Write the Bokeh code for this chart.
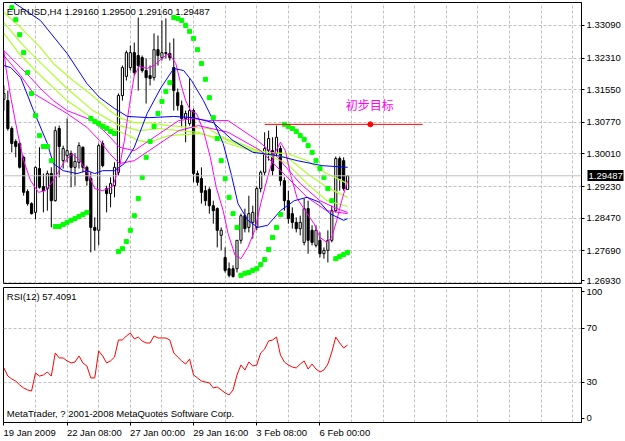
from bokeh.plotting import figure
from bokeh.layouts import column
from bokeh.models import Range1d, FixedTicker, Label, Span, LinearAxis
from bokeh.embed import file_html
from bokeh.resources import INLINE

# ---------------- data ----------------
bar_index = list(range(88))

open_prices = [1.3132, 1.3129, 1.3062, 1.3031, 1.3026, 1.2993, 1.2911, 1.2882, 1.2861, 1.2966,
               1.2923, 1.2918, 1.2954, 1.2889, 1.3062, 1.2985, 1.2997, 1.3002, 1.2969, 1.2981,
               1.3017, 1.2969, 1.2942, 1.2825, 1.2818, 1.3026, 1.2918, 1.2906, 1.2925, 1.2957,
               1.3141, 1.3187, 1.3208, 1.3244, 1.3237, 1.3232, 1.3201, 1.3189, 1.3184, 1.3251,
               1.3232, 1.3244, 1.3242, 1.3208, 1.3148, 1.3117, 1.3086, 1.3074, 1.3105, 1.2954,
               1.2942, 1.2913, 1.2916, 1.2877, 1.2870, 1.2806, 1.2753, 1.2726, 1.2726, 1.2726,
               1.2794, 1.2853, 1.2825, 1.2837, 1.2825, 1.2918, 1.2957, 1.3009, 1.3009, 1.3002,
               1.3014, 1.2937, 1.2889, 1.2858, 1.2837, 1.2822, 1.2789, 1.2870, 1.2818, 1.2782,
               1.2794, 1.2762, 1.2770, 1.2794, 1.2865, 1.2990, 1.2985, 1.29160]
high_prices = [1.3165, 1.3153, 1.3067, 1.3036, 1.3031, 1.2997, 1.2916, 1.2885, 1.2971, 1.3017,
               1.2954, 1.2961, 1.2969, 1.3067, 1.3069, 1.3021, 1.3086, 1.3009, 1.3002, 1.3029,
               1.3019, 1.2973, 1.2957, 1.2849, 1.3026, 1.3033, 1.2925, 1.2945, 1.2981, 1.3146,
               1.3213, 1.3249, 1.3261, 1.3268, 1.3328, 1.3237, 1.3230, 1.3213, 1.3290, 1.3285,
               1.3321, 1.3326, 1.3268, 1.3278, 1.3158, 1.3129, 1.3105, 1.3182, 1.3110, 1.2961,
               1.2969, 1.2925, 1.2921, 1.2889, 1.2873, 1.2825, 1.2777, 1.2741, 1.2734, 1.2794,
               1.2858, 1.2870, 1.2901, 1.2877, 1.2923, 1.2961, 1.3053, 1.3057, 1.3041, 1.3069,
               1.3021, 1.2945, 1.2913, 1.2873, 1.2849, 1.2853, 1.2894, 1.2889, 1.2830, 1.2830,
               1.2813, 1.2777, 1.2818, 1.2877, 1.2995, 1.2995, 1.2993, 1.29500]
low_prices = [1.3105, 1.3057, 1.3005, 1.2993, 1.2966, 1.2901, 1.2877, 1.2856, 1.2844, 1.2918,
              1.2861, 1.2865, 1.2825, 1.2887, 1.2945, 1.2966, 1.2981, 1.2921, 1.2925, 1.2966,
              1.2957, 1.2925, 1.2765, 1.2770, 1.2782, 1.2969, 1.2861, 1.2873, 1.2897, 1.2949,
              1.3129, 1.3177, 1.3201, 1.3189, 1.3153, 1.3196, 1.3122, 1.3165, 1.3177, 1.3213,
              1.3225, 1.3230, 1.3225, 1.3105, 1.3105, 1.3065, 1.3029, 1.3069, 1.2933, 1.2925,
              1.2882, 1.2877, 1.2858, 1.2834, 1.2777, 1.2770, 1.2717, 1.2705, 1.2705, 1.2717,
              1.2786, 1.2813, 1.2813, 1.2798, 1.2818, 1.2909, 1.2949, 1.2985, 1.2949, 1.2997,
              1.2925, 1.2865, 1.2834, 1.2822, 1.2813, 1.2806, 1.2782, 1.2762, 1.2782, 1.2777,
              1.2753, 1.2750, 1.2741, 1.2789, 1.2861, 1.2913, 1.2913, 1.29160]
close_prices = [1.3146, 1.3062, 1.3026, 1.3019, 1.2969, 1.2909, 1.2882, 1.2858, 1.2969, 1.2921,
                1.2913, 1.2954, 1.2889, 1.3057, 1.3019, 1.3014, 1.3009, 1.2969, 1.2983, 1.3021,
                1.2969, 1.2937, 1.2825, 1.2818, 1.3021, 1.2973, 1.2906, 1.2930, 1.2969, 1.3141,
                1.3208, 1.3244, 1.3244, 1.3196, 1.3213, 1.3201, 1.3184, 1.3182, 1.3251, 1.3237,
                1.3244, 1.3242, 1.3232, 1.3153, 1.3117, 1.3086, 1.3098, 1.3105, 1.2954, 1.2933,
                1.2909, 1.2889, 1.2877, 1.2865, 1.2818, 1.2818, 1.2722, 1.2710, 1.2707, 1.2794,
                1.2853, 1.2822, 1.2858, 1.2861, 1.2918, 1.2957, 1.3014, 1.3038, 1.2961, 1.3041,
                1.2937, 1.2889, 1.2846, 1.2837, 1.2822, 1.2837, 1.2870, 1.2794, 1.2789, 1.2818,
                1.2762, 1.2770, 1.2794, 1.2865, 1.2990, 1.2942, 1.2918, 1.29487]

sar_x = list(range(2, 88))
sar_values = [1.3352, 1.3323, 1.3287, 1.3244, 1.3196, 1.3146, 1.3093, 1.3045, 1.3019, 1.3019, 1.2985,
              1.2827, 1.2827, 1.2832, 1.2837, 1.2842, 1.2846, 1.2851, 1.2856, 1.2861,
              1.3086, 1.3079, 1.3074, 1.3067, 1.3062, 1.3055, 1.3050,
              1.2767, 1.2774, 1.2791, 1.2818, 1.2853, 1.2894, 1.2945, 1.2993, 1.3031, 1.3067,
              1.3098, 1.3127, 1.3151, 1.3172,
              1.3328, 1.3326, 1.3321, 1.3309, 1.3295, 1.3278, 1.3251, 1.3218, 1.3180, 1.3136,
              1.3088, 1.3038, 1.2985, 1.2942, 1.2897, 1.2858, 1.2825,
              1.2710, 1.2715, 1.2717, 1.2722, 1.2726, 1.2736, 1.2748, 1.2772, 1.2801, 1.2825, 1.2856,
              1.3072, 1.3067, 1.3062, 1.3055, 1.3045, 1.3036, 1.3021, 1.3005, 1.2985, 1.2966,
              1.2945, 1.2918, 1.2889,
              1.2750, 1.2755, 1.2760, 1.2765]

blue_slow_x = [0, 2.5, 9.25, 16, 21, 24.25, 28, 31.25, 36.75, 43, 48, 53, 58, 63, 69.25, 74.25, 80.5, 87]
blue_slow_y = [1.3381, 1.3364, 1.3321, 1.3242, 1.3170, 1.3136, 1.3110, 1.3091, 1.3088, 1.3091,
               1.3088, 1.3076, 1.3033, 1.3005, 1.2997, 1.2985, 1.2973, 1.2969]

blue_fast_x = [0, 1.75, 4.25, 7.5, 11, 12.5, 15, 18.5, 21, 23, 25, 28, 30.5, 33, 36.25, 39.75,
               43, 45.5, 47.5, 50.5, 53, 55.5, 57.5, 59.25, 61.75, 64.25, 66.75, 70, 73.5,
               76.75, 80, 82.5, 86, 87]
blue_fast_y = [1.3213, 1.3208, 1.3184, 1.3105, 1.3026, 1.2978, 1.2961, 1.2954, 1.2961, 1.2954,
               1.2961, 1.2961, 1.2978, 1.3017, 1.3098, 1.3160, 1.3206, 1.3201, 1.3177, 1.3129,
               1.3081, 1.3026, 1.2954, 1.2882, 1.2842, 1.2825, 1.2830, 1.2865, 1.2889, 1.2897,
               1.2885, 1.2858, 1.2842, 1.2846]

magenta_fast_x = [0, 0.5, 1.75, 3.5, 5, 6.75, 8.75, 10.5, 12.5, 15, 17.25, 19.25, 21.25, 23, 25,
                  27.5, 29.25, 30.5, 31.75, 33, 34.25, 36.25, 38, 40, 41.75, 43.5, 44.75, 46,
                  47.25, 48.75, 50.5, 52.25, 53.75, 55.5, 56.75, 58.5, 60, 61.75, 63.5, 65,
                  66.75, 68.5, 70, 71.25, 72.5, 74.25, 76.75, 78.5, 80, 81.75, 83, 84.25, 85.5, 87]
magenta_fast_y = [1.3249, 1.3208, 1.3136, 1.3050, 1.2985, 1.2937, 1.2909, 1.2913, 1.2937, 1.2978,
                  1.3002, 1.2985, 1.2954, 1.2918, 1.2913, 1.2923, 1.2969, 1.3033, 1.3117, 1.3189,
                  1.3211, 1.3206, 1.3213, 1.3230, 1.3242, 1.3218, 1.3170, 1.3129, 1.3105, 1.3098,
                  1.3057, 1.2993, 1.2921, 1.2865, 1.2810, 1.2758, 1.2750, 1.2777, 1.2818, 1.2882,
                  1.2945, 1.3002, 1.3029, 1.3009, 1.2954, 1.2894, 1.2858, 1.2834, 1.2801, 1.2789,
                  1.2801, 1.2842, 1.2889, 1.2937]

magenta_mid_x = [0, 1.75, 4.25, 6.75, 9.25, 12.5, 16, 19.25, 22.5, 26, 29.25, 33, 36.75, 40.5,
                 44.25, 48, 51.75, 56.75, 64.25, 69.25, 75, 80, 84.25, 87]
magenta_mid_y = [1.3249, 1.3232, 1.3208, 1.3184, 1.3158, 1.3129, 1.3105, 1.3093, 1.3081, 1.3050,
                 1.3017, 1.3009, 1.3033, 1.3057, 1.3081, 1.3086, 1.3081, 1.3081, 1.3033, 1.2993,
                 1.2930, 1.2889, 1.2870, 1.2861]

magenta_slow_x = [0, 4.25, 7.5, 11.75, 16, 21, 24.25, 26.75, 29.25, 33, 36.75, 40.5, 44.25,
                  49.25, 56.75, 65, 71.75, 76.75, 81.75, 87]
magenta_slow_y = [1.3237, 1.3189, 1.3146, 1.3122, 1.3098, 1.3065, 1.3033, 1.3002, 1.2978, 1.2985,
                  1.3009, 1.3033, 1.3057, 1.3069, 1.3053, 1.3009, 1.2945, 1.2897, 1.2865, 1.2858]

yellow_a_x = [0, 4.25, 9.25, 12.5, 17.5, 21.75, 26.75, 29.25, 33, 36.75, 41.75, 46.75, 51.75,
              56.75, 61.75, 66.75, 71.75, 76.75, 81.75, 87]
yellow_a_y = [1.3340, 1.3304, 1.3256, 1.3218, 1.3177, 1.3146, 1.3105, 1.3088, 1.3076, 1.3076,
              1.3069, 1.3065, 1.3062, 1.3033, 1.3014, 1.3005, 1.3002, 1.2985, 1.2954, 1.2930]

yellow_b_x = [0, 4.25, 9.25, 16, 22.5, 29.25, 34.25, 39.25, 44.25, 49.25, 56.75, 65, 71.75,
              76.75, 81.75, 87]
yellow_b_y = [1.3316, 1.3268, 1.3220, 1.3158, 1.3105, 1.3069, 1.3057, 1.3062, 1.3057, 1.3053,
              1.3026, 1.3002, 1.2993, 1.2954, 1.2921, 1.2897]

yellow_c_x = [0, 4.25, 9.25, 16, 22.5, 26.75, 30.5, 34.25, 36.75, 41.75, 49.25, 58, 64.25,
              71.75, 76.75, 81.75, 87]
yellow_c_y = [1.3290, 1.3237, 1.3189, 1.3129, 1.3086, 1.3065, 1.3050, 1.3033, 1.3029, 1.3045,
              1.3050, 1.3033, 1.3009, 1.2978, 1.2930, 1.2889, 1.2875]

target_x = [66, 106]
target_y = [1.3072, 1.3072]
target_dot_x = [92.75]
target_dot_y = [1.3072]

rsi_values = [40.4, 34.4, 32.2, 30.7, 27.8, 25.6, 24.1, 23.3, 36.7, 34.4,
              35.2, 37.4, 34.4, 51.5, 47.8, 47.8, 45.6, 44.1, 44.8, 49.3,
              44.1, 41.9, 33.0, 33.0, 53.0, 49.3, 44.1, 45.6, 48.5, 61.1,
              61.1, 64.1, 66.3, 61.9, 63.3, 60.4, 58.9, 58.9, 64.1, 62.6,
              62.6, 62.6, 61.1, 51.5, 48.5, 45.6, 43.3, 47.0, 35.2, 33.0,
              30.7, 30.0, 29.3, 25.6, 26.3, 24.1, 21.9, 20.4, 24.1, 35.2,
              42.6, 38.9, 44.8, 41.9, 42.6, 51.5, 54.4, 60.4, 61.1, 63.3,
              50.0, 44.8, 42.6, 41.1, 40.4, 43.3, 45.6, 39.6, 43.3, 39.6,
              37.4, 38.9, 43.3, 52.2, 63.3, 58.9, 55.2, 57.4]

price_grid = [1.26930, 1.27690, 1.28470, 1.29230, 1.30010, 1.30770, 1.31550, 1.32310, 1.33090]
price_tick_pos = [1.26970, 1.27690, 1.28470, 1.29230, 1.30010, 1.30770, 1.31550, 1.32310, 1.33090]
price_tick_labels = ["1.26930", "1.27690", "1.28470", "1.29230", "1.30010", "1.30770",
                     "1.31550", "1.32310", "1.33090"]
current_price = 1.29487
current_price_text = "1.29487"
date_ticks = [0, 16, 32, 48, 64, 80]
date_labels = ["19 Jan 2009", "22 Jan 08:00", "27 Jan 00:00", "29 Jan 16:00", "3 Feb 08:00", "6 Feb 00:00"]
date_label_half_width = [6.5, 6.9, 6.9, 6.9, 6.3, 6.3]   # layout: label centred right of its tick
rsi_ticks = [3, 30, 70, 97]
rsi_labels = ["0", "30", "70", "100"]

# ---------------- style ----------------
FONT = "Liberation Sans"
FS = "9.5px"
GRID = "#C0C0C0"
W = 625
BORDER_R = 44


def style_axis(ax):
    ax.major_label_text_font = FONT
    ax.major_label_text_font_size = FS
    ax.major_label_text_color = "black"
    ax.major_tick_out = 3
    ax.major_tick_in = 0
    ax.minor_tick_out = 0
    ax.minor_tick_in = 0
    ax.minor_tick_line_color = None
    ax.axis_line_color = "black"
    ax.major_tick_line_color = "black"
    ax.major_label_standoff = 2


x_range = Range1d(-0.1, 146.2)

p = figure(width=W, height=286, output_backend="svg", toolbar_location=None,
           x_range=x_range, y_range=Range1d(1.26905, 1.33641),
           x_axis_location=None, y_axis_location="right",
           min_border_left=3, min_border_right=BORDER_R, min_border_top=2, min_border_bottom=3,
           background_fill_color="white", border_fill_color="white")
p.outline_line_color = "black"
p.outline_line_width = 1
style_axis(p.yaxis[0])
p.yaxis[0].ticker = FixedTicker(ticks=price_tick_pos)
p.yaxis[0].major_label_overrides = dict(zip(price_tick_pos, price_tick_labels))

# current price box on the price scale: a second, near zero-width price axis whose single
# tick is a thick black bar drawn inward over the first axis, with its label in white on it
price_box_axis = LinearAxis(ticker=FixedTicker(ticks=[current_price]),
                            major_label_overrides={current_price: current_price_text})
price_box_axis.major_label_text_font = FONT
price_box_axis.major_label_text_font_size = FS
price_box_axis.major_label_text_color = "white"
price_box_axis.major_tick_out = 0
price_box_axis.major_tick_in = 36
price_box_axis.major_tick_line_color = "black"
price_box_axis.major_tick_line_width = 11
price_box_axis.major_tick_line_cap = "butt"
price_box_axis.minor_tick_line_color = None
price_box_axis.minor_tick_out = 0
price_box_axis.minor_tick_in = 0
price_box_axis.axis_line_color = None
price_box_axis.major_label_standoff = -35
p.add_layout(price_box_axis, "right")

p.xgrid.ticker = FixedTicker(ticks=list(range(8, 146, 8)))
p.ygrid.ticker = FixedTicker(ticks=price_grid)
for g in (p.xgrid, p.ygrid):
    g.grid_line_color = GRID
    g.grid_line_dash = "3 2"
    g.grid_line_width = 1

p.add_layout(Span(location=current_price, dimension="width", line_color=GRID, line_width=1))

# candles
up_x = [i for i in bar_index if close_prices[i] >= open_prices[i]]
dn_x = [i for i in bar_index if close_prices[i] < open_prices[i]]
p.segment(x0=bar_index, y0=low_prices, x1=bar_index, y1=high_prices, line_color="black", line_width=1)
p.vbar(x=up_x, width=0.55, bottom=[open_prices[i] for i in up_x], top=[close_prices[i] for i in up_x],
       fill_color="white", line_color="black", line_width=1)
p.vbar(x=dn_x, width=0.55, bottom=[close_prices[i] for i in dn_x], top=[open_prices[i] for i in dn_x],
       fill_color="black", line_color="black", line_width=1)

# indicators
for xs, ys in ((yellow_a_x, yellow_a_y), (yellow_b_x, yellow_b_y), (yellow_c_x, yellow_c_y)):
    p.line(xs, ys, line_color="#ADFF2F", line_width=1.2)
for xs, ys in ((magenta_mid_x, magenta_mid_y), (magenta_slow_x, magenta_slow_y), (magenta_fast_x, magenta_fast_y)):
    p.line(xs, ys, line_color="#FF00FF", line_width=1)
p.line(blue_slow_x, blue_slow_y, line_color="#0000FF", line_width=1)
p.line(blue_fast_x, blue_fast_y, line_color="#0000FF", line_width=1)
p.scatter(sar_x, sar_values, marker="square", size=4, fill_color="#00FF00", line_color="#00FF00")

p.line(target_x, target_y, line_color="red", line_width=1)
p.scatter(target_dot_x, target_dot_y, marker="circle", size=5, fill_color="red", line_color="red")

p.add_layout(Label(x=0.75, y=1.33425, text="EURUSD,H4  1.29160 1.29500 1.29160 1.29487",
                   text_font=FONT, text_font_size=FS, text_color="black", text_baseline="middle"))
p.add_layout(Label(x=86.5, y=1.31196, text="初步目标", text_font="Noto Sans CJK SC",
                   text_font_size="12px", text_color="#FF00FF", text_baseline="middle"))

# ---------------- RSI panel ----------------
p2 = figure(width=W, height=155, output_backend="svg", toolbar_location=None,
            x_range=x_range, y_range=Range1d(0, 100), y_axis_location="right",
            min_border_left=3, min_border_right=BORDER_R, min_border_top=1, min_border_bottom=19,
            background_fill_color="white", border_fill_color="white")
p2.outline_line_color = "black"
style_axis(p2.yaxis[0])
p2.yaxis[0].ticker = FixedTicker(ticks=rsi_ticks)
p2.yaxis[0].major_label_overrides = dict(zip(rsi_ticks, rsi_labels))
style_axis(p2.xaxis[0])
label_pos = [t + h for t, h in zip(date_ticks, date_label_half_width)]
p2.xaxis[0].ticker = FixedTicker(ticks=label_pos, minor_ticks=date_ticks)
p2.xaxis[0].major_label_overrides = dict(zip(label_pos, date_labels))
p2.xaxis[0].major_tick_line_color = None
p2.xaxis[0].major_tick_out = 3
p2.xaxis[0].minor_tick_line_color = "black"
p2.xaxis[0].minor_tick_out = 3
p2.xaxis[0].major_label_standoff = 1
p2.xgrid.ticker = FixedTicker(ticks=list(range(8, 146, 8)))
p2.ygrid.ticker = FixedTicker(ticks=[30, 70])
for g in (p2.xgrid, p2.ygrid):
    g.grid_line_color = GRID
    g.grid_line_dash = "3 2"

p2.line(bar_index, rsi_values, line_color="red", line_width=1)
p2.add_layout(Label(x=0.75, y=93.7, text="RSI(12) 57.4091", text_font=FONT, text_font_size=FS,
                    text_color="black", text_baseline="middle"))
p2.add_layout(Label(x=0.75, y=6.3, text="MetaTrader, ? 2001-2008 MetaQuotes Software Corp.",
                    text_font=FONT, text_font_size=FS, text_color="black", text_baseline="middle"))

layout = column(p, p2, spacing=0)
open("out.html", "w").write(file_html(layout, INLINE))
